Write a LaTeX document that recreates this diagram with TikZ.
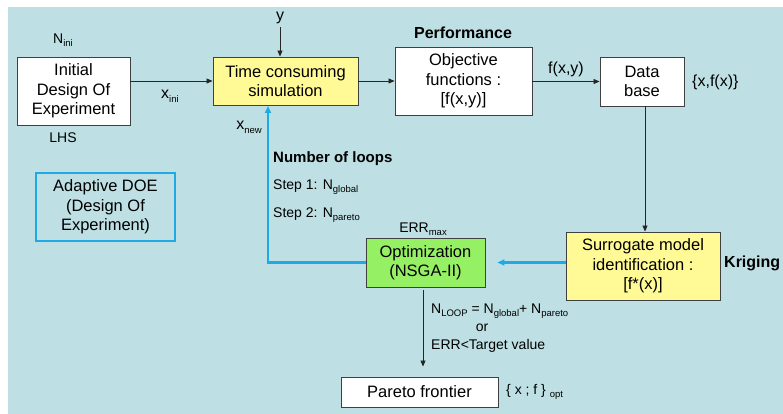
\documentclass[tikz,border=0pt]{standalone}
\usepackage{fontspec}
\setmainfont{Liberation Sans}
\usetikzlibrary{arrows.meta}
\definecolor{bgc}{RGB}{190,224,228}
\definecolor{yel}{RGB}{255,250,150}
\definecolor{grn}{RGB}{150,240,100}
\definecolor{lblue}{RGB}{30,170,228}
\newcommand{\sbs}[1]{\raisebox{-0.45ex}{\fontsize{9.5}{10}\selectfont #1}}
\tikzset{
  box/.style={draw=black!75, line width=0.9pt, align=center, inner sep=0pt,
     font=\fontsize{16.5}{19.5}\selectfont},
  lbl/.style={inner sep=0pt, font=\fontsize{14}{16}\selectfont},
  bl/.style={inner sep=0pt, font=\fontsize{15}{17}\selectfont\bfseries},
  arr/.style={-{Triangle[length=6pt,width=5pt]}, line width=0.8pt, black!85},
  barr/.style={-{Triangle[length=7pt,width=6pt]}, line width=2.2pt, lblue},
}
\begin{document}
\begin{tikzpicture}[x=1pt,y=-1pt]
\useasboundingbox (0,0) rectangle (783,414);
\fill[bgc] (8,7) rectangle (783,414);
% boxes
\node[box, fill=white, minimum width=113pt, minimum height=68pt] (ini) at (73.5,91) {Initial\\Design Of\\Experiment};
\node[box, fill=yel, minimum width=145pt, minimum height=48pt] (sim) at (285.5,81) {Time consuming\\simulation};
\node[box, fill=white, minimum width=137pt, minimum height=68pt] (obj) at (463.5,81) {Objective\\functions :\\{[}f(x,y){]}};
\node[box, fill=white, minimum width=84pt, minimum height=49pt] (db) at (642,81.5) {Data\\base};
\node[box, fill=yel, minimum width=154pt, minimum height=68pt] (sur) at (643,266) {Surrogate model\\identification :\\{[}f*(x){]}};
\node[box, fill=grn, minimum width=119pt, minimum height=49pt] (opt) at (425.5,262.5) {Optimization\\(NSGA-II)};
\node[box, fill=white, minimum width=157pt, minimum height=30pt] (par) at (419.5,392) {Pareto frontier};
\node[box, draw=lblue, line width=2.2pt, minimum width=139pt, minimum height=68pt] (ado) at (105.5,207) {Adaptive DOE\\(Design Of\\Experiment)};
% labels
\node[lbl] (nini) at (63,40) {N\sbs{ini}};
\node[lbl] (lhs) at (63,138) {LHS};
\node[lbl] (yl) at (280,18) {\fontsize{16}{18}\selectfont y};
\node[lbl, anchor=west] (xini) at (161,96) {\fontsize{16}{18}\selectfont x\sbs{ini}};
\node[lbl] (xnew) at (249,127) {\fontsize{16}{18}\selectfont x\sbs{new}};
\node[bl] (perf) at (463,33) {\fontsize{16}{18}\selectfont\bfseries Performance};
\node[lbl] (fxy) at (566,69) {\fontsize{16}{18}\selectfont f(x,y)};
\node[lbl, anchor=west] (dbset) at (692,82) {\fontsize{16}{18}\selectfont \{x,f(x)\}};
\node[bl, anchor=west] (krig) at (724,263) {\fontsize{16}{18}\selectfont\bfseries Kriging};
\node[bl, anchor=west] (nloops) at (273,159) {Number of loops};
\node[lbl, anchor=west] (st1) at (273,187) {Step 1: N\sbs{global}};
\node[lbl, anchor=west] (st2) at (273,215) {Step 2: N\sbs{pareto}};
\node[lbl] (errmax) at (423,229) {ERR\sbs{max}};
\node[lbl, anchor=west] (nl) at (431,311) {N\sbs{LOOP} = N\sbs{global}+ N\sbs{pareto}};
\node[lbl] (orl) at (482,328) {or};
\node[lbl, anchor=west] (errt) at (431,346) {ERR<Target value};
\node[lbl, anchor=west] (xfopt) at (506,392) {\{ x ; f \} \sbs{opt}};
% connectors
\coordinate (ytop) at (280,27);
\draw[arr] (ytop) -- (sim.north -| ytop);
\draw[arr] (ini.east |- sim) -- (sim.west);
\draw[arr] (sim.east) -- (obj.west);
\draw[arr] (obj.east |- db) -- (db.west);
\draw[arr] (db.south -| 645,0) -- (sur.north -| 645,0);
\draw[barr] (sur.west |- opt) -- ([xshift=12pt]opt.east);
\draw[barr] (opt.west) -- (268,262.5) -- (268,106);
\draw[arr] ([yshift=-3pt]opt.south -| 423,0) -- ([yshift=10pt]par.north -| 423,0);
\end{tikzpicture}
\end{document}
